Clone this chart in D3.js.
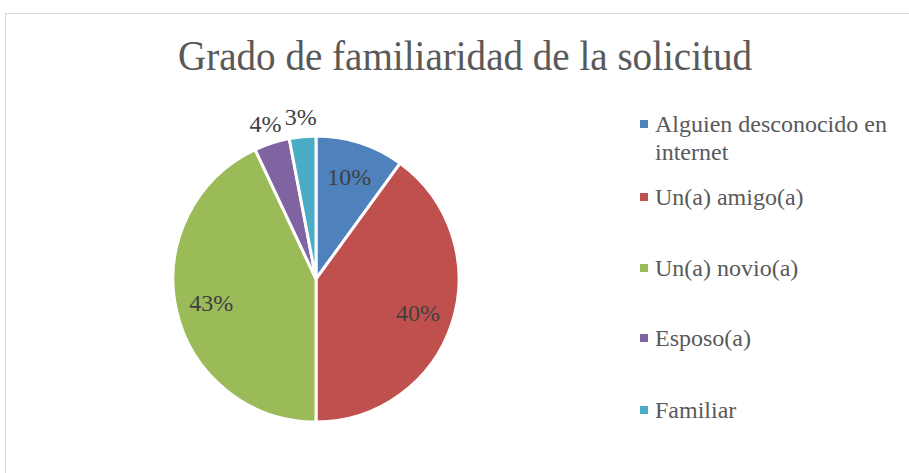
<!DOCTYPE html>
<html>
<head>
<meta charset="utf-8">
<script src="https://cdn.jsdelivr.net/npm/d3@7"></script>
<style>
  body { margin: 0; background: #fff; }
  text { font-family: "Liberation Serif", "DejaVu Serif", serif; }
</style>
</head>
<body>
<div id="chart"></div>
<script>
(function () {

	var categories = ["Alguien desconocido en internet", "Un(a) amigo(a)", "Un(a) novio(a)", "Esposo(a)", "Familiar"];
	var values = [10, 40, 43, 4, 3];
	var labels = ["10%", "40%", "43%", "4%", "3%"];
	var colors = ["#4F81BD", "#C0504D", "#9BBB59", "#8064A2", "#4BACC6"];

	var width = 909, height = 473;

	var svg = d3.select("#chart")
		.append("svg")
		.attr("width", width)
		.attr("height", height);

	// chart area border
	svg.append("rect")
		.attr("x", 5.5).attr("y", 13.5)
		.attr("width", 920).attr("height", 480)
		.attr("fill", "#fff")
		.attr("stroke", "#d9d9d9");

	svg.append("text")
		.attr("x", 465).attr("y", 70)
		.attr("text-anchor", "middle")
		.attr("font-size", 42)
		.attr("fill", "#595959")
		.attr("textLength", 574)
		.attr("lengthAdjust", "spacingAndGlyphs")
		.text("Grado de familiaridad de la solicitud");

	var cx = 316, cy = 279, r = 143;

	var pie = d3.pie().sort(null).value(function (d) { return d; });
	var arc = d3.arc().innerRadius(0).outerRadius(r);
	var arcs = pie(values);

	var g = svg.append("g").attr("transform", "translate(" + cx + "," + cy + ")");

	g.selectAll(".slice")
		.data(arcs)
		.enter().append("path")
		.attr("class", "slice")
		.attr("d", arc)
		.attr("fill", function (d, i) { return colors[i]; })
		.attr("stroke", "#fff")
		.attr("stroke-width", 3);

	// inside labels for big slices, outside for small ones
	var inner = d3.arc().innerRadius(r * 0.75).outerRadius(r * 0.75);
	var outer = d3.arc().innerRadius(r * 1.14).outerRadius(r * 1.14);

	g.selectAll(".lbl")
		.data(arcs)
		.enter().append("text")
		.attr("class", "lbl")
		.attr("transform", function (d) {
			var p = (d.data >= 8 ? inner : outer).centroid(d);
			return "translate(" + p[0] + "," + p[1] + ")";
		})
		.attr("text-anchor", "middle")
		.attr("dy", "0.35em")
		.attr("font-size", 24)
		.attr("fill", "#404040")
		.text(function (d, i) { return labels[i]; });

	var legendY = [124, 197, 268, 338, 410];

	var leg = svg.selectAll(".legend")
		.data(categories)
		.enter().append("g")
		.attr("class", "legend")
		.attr("transform", function (d, i) { return "translate(640," + legendY[i] + ")"; });

	leg.append("rect")
		.attr("x", 0).attr("y", -4)
		.attr("width", 8).attr("height", 8)
		.attr("fill", function (d, i) { return colors[i]; });

	leg.append("text")
		.attr("x", 15)
		.attr("dy", "0.35em")
		.attr("font-size", 24)
		.attr("fill", "#595959")
		.each(function (d) {
			var t = d3.select(this);
			if (d.indexOf("internet") > 0) {
				t.append("tspan").attr("x", 15).text("Alguien desconocido en");
				t.append("tspan").attr("x", 15).attr("dy", 28).text("internet");
			} else {
				t.text(d);
			}
		});

})();
</script>
</body>
</html>
